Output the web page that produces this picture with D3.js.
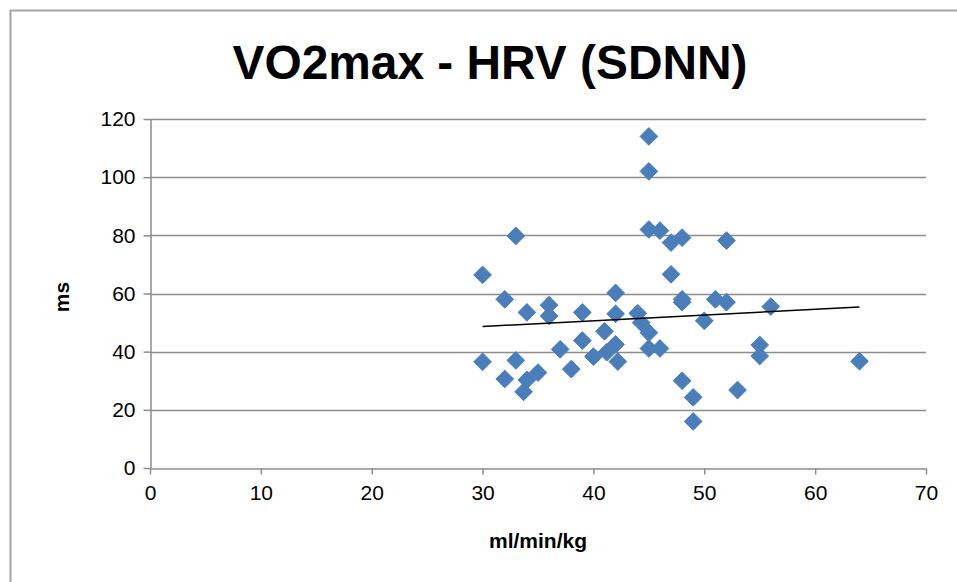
<!DOCTYPE html>
<html><head><meta charset="utf-8">
<script src="https://cdn.jsdelivr.net/npm/d3@7"></script>
<style>body{margin:0;background:#fff}svg{display:block}</style>
</head><body>
<script>
const chartTitle = "VO2max - HRV (SDNN)";
const xTitle = "ml/min/kg";
const yTitle = "ms";
const xTicks = [0,10,20,30,40,50,60,70];
const yTicks = [0,20,40,60,80,100,120];
const vo2max = [30,30,32,32,33,33,34,34,33.7,35,36,36,37,38,39,39,40,41,41.2,42,42,42,42.2,44,44.3,45,45,46,45,45,45,46,47,48,47,48,48,51,52,52,56,50,55,55,48,49,53,49,64];
const sdnn   = [66.4,36.5,58,30.6,79.8,37,53.5,30.3,26.2,32.8,56,52.3,40.8,34,53.5,43.8,38.3,47,39.8,60.2,53,42.5,36.6,53.2,50,46.5,41.1,41.1,114,102,82,81.6,77.5,79.2,66.6,58,57,58,57,78.2,55.5,50.6,42.3,38.5,30,24.3,26.8,16,36.7];

const W=957,H=582;
const svg=d3.select("body").append("svg").attr("width",W).attr("height",H);
svg.append("rect").attr("width",W).attr("height",H).attr("fill","#fff");
svg.append("path").attr("d",`M10.5,${H} L10.5,10.5 L${W},10.5`).attr("fill","none").attr("stroke","#a6a6a6").attr("stroke-width",2);

const x=d3.scaleLinear().domain([0,70]).range([150,926]);
const y=d3.scaleLinear().domain([0,120]).range([468,119]);
const font="'Liberation Sans', Arial, sans-serif";

svg.append("g").selectAll("line").data(yTicks.filter(d=>d>0)).join("line")
  .attr("x1",x(0)).attr("x2",x(70)).attr("y1",d=>Math.round(y(d))+0.5).attr("y2",d=>Math.round(y(d))+0.5)
  .attr("stroke","#8c8c8c").attr("stroke-width",1.5);

const xa=svg.append("g").attr("transform",`translate(0,${Math.round(y(0))+0.5})`)
  .call(d3.axisBottom(x).tickValues(xTicks).tickSize(6).tickPadding(8).tickSizeOuter(0));
const ya=svg.append("g").attr("transform",`translate(${x(0)+0.5},0)`)
  .call(d3.axisLeft(y).tickValues(yTicks).tickSize(7).tickPadding(8).tickSizeOuter(0));
[xa,ya].forEach(a=>{
  a.select(".domain").attr("stroke","#8c8c8c").attr("stroke-width",1.5);
  a.selectAll(".tick line").attr("stroke","#8c8c8c").attr("stroke-width",1.5);
  a.selectAll(".tick text").attr("font-family",font).attr("font-size",21).attr("fill","#000");
});
xa.selectAll(".tick text").attr("dy","0.85em");

const n=vo2max.length, mx=d3.mean(vo2max), my=d3.mean(sdnn);
let sxy=0,sxx=0; for(let i=0;i<n;i++){sxy+=(vo2max[i]-mx)*(sdnn[i]-my);sxx+=(vo2max[i]-mx)**2;}
const b=sxy/sxx, a0=my-b*mx;
const [x0,x1]=d3.extent(vo2max);

const sym=d3.symbol().type(d3.symbolDiamond2).size(200);
svg.append("g").selectAll("path").data(vo2max.map((v,i)=>[v,sdnn[i]])).join("path")
  .attr("d",sym).attr("transform",d=>`translate(${x(d[0])},${y(d[1])})`)
  .attr("fill","#4a7ebb").attr("stroke","#4a7ebb").attr("stroke-width",1);

svg.append("line").attr("x1",x(x0)).attr("y1",y(a0+b*x0)).attr("x2",x(x1)).attr("y2",y(a0+b*x1))
  .attr("stroke","#000").attr("stroke-width",1.5);

svg.append("text").attr("x",490).attr("y",79).attr("text-anchor","middle")
  .attr("font-family",font).attr("font-weight","bold").attr("font-size",48).attr("textLength",515).attr("lengthAdjust","spacingAndGlyphs").text(chartTitle);
svg.append("text").attr("x",538).attr("y",548).attr("text-anchor","middle")
  .attr("font-family",font).attr("font-weight","bold").attr("font-size",21).text(xTitle);
svg.append("text").attr("transform","translate(69,297) rotate(-90)").attr("text-anchor","middle")
  .attr("font-family",font).attr("font-weight","bold").attr("font-size",21).text(yTitle);
</script>
</body></html>
